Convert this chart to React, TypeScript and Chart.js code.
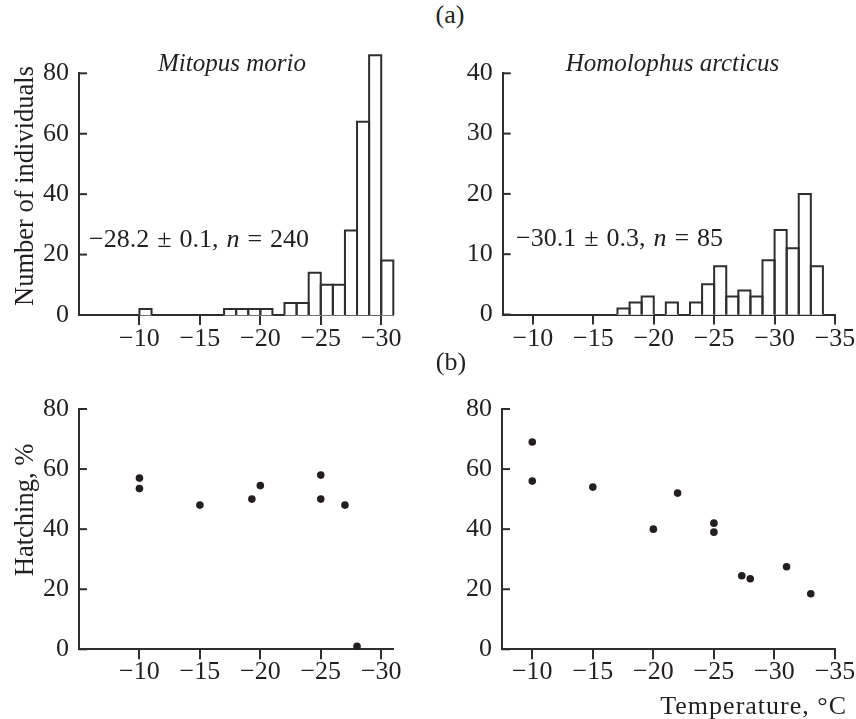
import React, { useEffect, useRef } from 'react';
import { Chart, registerables } from 'chart.js';

Chart.register(...registerables);

// ---------- data ----------
const BIN_WIDTH = 1;
// histogram bins: left edge temperature (°C) of each 1-degree bin, and counts
const mitopusBinStarts = [-10, -17, -18, -19, -20, -22, -23, -24, -25, -26, -27, -28, -29, -30];
const mitopusCounts = [2, 2, 2, 2, 2, 4, 4, 14, 10, 10, 28, 64, 86, 18];
const homolophusBinStarts = [-17, -18, -19, -21, -23, -24, -25, -26, -27, -28, -29, -30, -31, -32, -33];
const homolophusCounts = [1, 2, 3, 2, 2, 5, 8, 3, 4, 3, 9, 14, 11, 20, 8];

// hatching success vs temperature
const mitopusHatchTemp = [-10, -10, -15, -19.3, -20, -25, -25, -27, -28];
const mitopusHatchPct = [57, 53.5, 48, 50, 54.5, 58, 50, 48, 1];
const homolophusHatchTemp = [-10, -10, -15, -20, -22, -25, -25, -27.3, -28, -31, -33];
const homolophusHatchPct = [69, 56, 54, 40, 52, 42, 39, 24.5, 23.5, 27.5, 18.5];

// tick labels
const tempTicksMitopus = [-10, -15, -20, -25, -30];
const tempTicksHomolophus = [-10, -15, -20, -25, -30, -35];
const countTicksMitopus = [0, 20, 40, 60, 80];
const countTicksHomolophus = [0, 10, 20, 30, 40];
const hatchTicks = [0, 20, 40, 60, 80];

// ---------- styles ----------
const INK = '#231f20';
const LINE = '#2e2e2e';
const SERIF = '"Liberation Serif", "Times New Roman", Times, serif';
const TICK_FONT = 26;
const LINE_W = 2;

Chart.defaults.font.family = SERIF;

const fmt = (v: number | string) => {
  const n = Number(v);
  return n < 0 ? '\u2212' + Math.abs(n) : String(n);
};

// y ticks pointing into the plot area
const innerYTicks = {
  id: 'innerYTicks',
  afterDraw(chart: any) {
    const { ctx, chartArea, scales } = chart;
    const y = scales.y;
    ctx.save();
    ctx.strokeStyle = LINE;
    ctx.lineWidth = LINE_W;
    y.ticks.forEach((t: any) => {
      const py = y.getPixelForValue(t.value);
      ctx.beginPath();
      ctx.moveTo(chartArea.left, py);
      ctx.lineTo(chartArea.left + 8, py);
      ctx.stroke();
    });
    ctx.restore();
  },
};

// open histogram outlines with uniform stroke, using the bar elements' own geometry
const barOutline = {
  id: 'barOutline',
  afterDatasetsDraw(chart: any) {
    const { ctx } = chart;
    chart.data.datasets.forEach((_: any, di: number) => {
      const meta = chart.getDatasetMeta(di);
      if (meta.type !== 'bar') return;
      ctx.save();
      ctx.strokeStyle = LINE;
      ctx.lineWidth = LINE_W;
      ctx.lineJoin = 'miter';
      meta.data.forEach((el: any) => {
        const { x, y, base, width } = el.getProps(['x', 'y', 'base', 'width'], true);
        const l = x - width / 2;
        const r = x + width / 2;
        ctx.beginPath();
        ctx.moveTo(l, base);
        ctx.lineTo(l, y);
        ctx.lineTo(r, y);
        ctx.lineTo(r, base);
        ctx.stroke();
      });
      ctx.restore();
    });
  },
};

type Box = { left: number; top: number; width: number; height: number };
type Area = { left: number; top: number; right: number; bottom: number };

type PanelProps = {
  kind: 'bar' | 'scatter';
  xs: number[];
  ys: number[];
  xTicks: number[];
  yTicks: number[];
  xMin: number;
  xMax: number;
  box: Box;
  area: Area;
  xTickPad: number;
};

function Panel({ kind, xs, ys, xTicks, yTicks, xMin, xMax, box, area, xTickPad }: PanelProps) {
  const ref = useRef<HTMLCanvasElement | null>(null);
  useEffect(() => {
    if (!ref.current) return;
    const dataset: any =
      kind === 'bar'
        ? {
            data: xs.map((x, i) => ({ x: x - BIN_WIDTH / 2, y: ys[i] })),
            backgroundColor: '#ffffff',
            borderWidth: 0,
            categoryPercentage: 1,
            barPercentage: 1,
            clip: false,
          }
        : {
            data: xs.map((x, i) => ({ x, y: ys[i] })),
            pointRadius: 3.8,
            pointBackgroundColor: INK,
            pointBorderWidth: 0,
            showLine: false,
            clip: false,
          };
    const chart = new Chart(ref.current, {
      type: kind,
      data: { datasets: [dataset] },
      options: {
        animation: false,
        responsive: false,
        events: [],
        layout: {
          padding: {
            left: 0,
            top: area.top - box.top,
            right: box.left + box.width - area.right,
            bottom: 0,
          },
        },
        plugins: {
          legend: { display: false },
          tooltip: { enabled: false },
          title: { display: false },
        },
        scales: {
          x: {
            type: 'linear',
            reverse: true,
            min: xMin,
            max: xMax,
            offset: false,
            afterBuildTicks: (s: any) => {
              s.ticks = xTicks.map((v) => ({ value: v }));
            },
            afterFit: (s: any) => {
              s.height = box.top + box.height - area.bottom;
            },
            grid: {
              display: true,
              drawOnChartArea: false,
              drawTicks: true,
              tickLength: 10,
              color: LINE,
              lineWidth: LINE_W,
              offset: false,
            },
            border: { display: true, color: LINE, width: LINE_W },
            ticks: {
              callback: fmt,
              padding: xTickPad,
              color: INK,
              font: { size: TICK_FONT, family: SERIF },
              maxRotation: 0,
              autoSkip: false,
            },
          },
          y: {
            type: 'linear',
            min: yTicks[0],
            max: yTicks[yTicks.length - 1],
            afterBuildTicks: (s: any) => {
              s.ticks = yTicks.map((v) => ({ value: v }));
            },
            afterFit: (s: any) => {
              s.width = area.left - box.left;
            },
            grid: { display: false, drawTicks: false },
            border: { display: true, color: LINE, width: LINE_W },
            ticks: {
              callback: fmt,
              padding: 10,
              color: INK,
              font: { size: TICK_FONT, family: SERIF },
              autoSkip: false,
            },
          },
        },
      } as any,
      plugins: [barOutline, innerYTicks],
    } as any);
    return () => chart.destroy();
  }, []);
  return (
    <canvas
      ref={ref}
      width={box.width}
      height={box.height}
      style={{ position: 'absolute', left: box.left, top: box.top, width: box.width, height: box.height }}
    />
  );
}

function Text({
  x,
  baseline,
  size,
  align = 'left',
  italic = false,
  spacing = 0,
  wordSpacing = 0,
  children,
}: any) {
  const shift = align === 'center' ? '-50%' : align === 'right' ? '-100%' : '0';
  return (
    <div
      style={{
        position: 'absolute',
        left: x,
        top: baseline - 0.8375 * size,
        fontSize: size,
        lineHeight: `${size}px`,
        whiteSpace: 'nowrap',
        transform: `translateX(${shift})`,
        fontStyle: italic ? 'italic' : 'normal',
        letterSpacing: spacing,
        wordSpacing,
      }}
    >
      {children}
    </div>
  );
}

function VText({ cx, cy, size, children }: any) {
  return (
    <div
      style={{
        position: 'absolute',
        left: cx,
        top: cy,
        fontSize: size,
        lineHeight: `${size}px`,
        whiteSpace: 'nowrap',
        transform: 'translate(-50%, -50%) rotate(-90deg)',
      }}
    >
      {children}
    </div>
  );
}

export default function App() {
  return (
    <div
      style={{
        position: 'absolute',
        left: 0,
        top: 0,
        width: 856,
        height: 719,
        overflow: 'hidden',
        background: '#ffffff',
        fontFamily: SERIF,
        color: INK,
      }}
    >
      <Panel
        kind="bar"
        xs={mitopusBinStarts}
        ys={mitopusCounts}
        xTicks={tempTicksMitopus}
        yTicks={countTicksMitopus}
        xMin={-31}
        xMax={-5}
        box={{ left: 0, top: 40, width: 420, height: 320 }}
        area={{ left: 79, top: 73.3, right: 393.3, bottom: 315 }}
        xTickPad={-1}
      />
      <Panel
        kind="bar"
        xs={homolophusBinStarts}
        ys={homolophusCounts}
        xTicks={tempTicksHomolophus}
        yTicks={countTicksHomolophus}
        xMin={-35}
        xMax={-7.5}
        box={{ left: 420, top: 40, width: 460, height: 320 }}
        area={{ left: 502.7, top: 73.3, right: 835, bottom: 314.5 }}
        xTickPad={-1}
      />
      <Panel
        kind="scatter"
        xs={mitopusHatchTemp}
        ys={mitopusHatchPct}
        xTicks={tempTicksMitopus}
        yTicks={hatchTicks}
        xMin={-31}
        xMax={-5}
        box={{ left: 0, top: 380, width: 420, height: 320 }}
        area={{ left: 79, top: 409, right: 393.3, bottom: 649.3 }}
        xTickPad={-3}
      />
      <Panel
        kind="scatter"
        xs={homolophusHatchTemp}
        ys={homolophusHatchPct}
        xTicks={tempTicksHomolophus}
        yTicks={hatchTicks}
        xMin={-35}
        xMax={-7.5}
        box={{ left: 420, top: 380, width: 460, height: 320 }}
        area={{ left: 502, top: 409, right: 835, bottom: 649.3 }}
        xTickPad={-3}
      />

      <Text x={450} baseline={24} size={26} align="center">(a)</Text>
      <Text x={451} baseline={371} size={26} align="center">(b)</Text>

      <Text x={232} baseline={71} size={25} align="center" italic>Mitopus morio</Text>
      <Text x={672.5} baseline={71} size={25} align="center" italic>Homolophus arcticus</Text>

      <Text x={89} baseline={248} size={26} wordSpacing={1.5}>
        {'\u221228.2 \u00b1 0.1, '}<i>n</i>{' = 240'}
      </Text>
      <Text x={516} baseline={247} size={26} wordSpacing={1.5}>
        {'\u221230.1 \u00b1 0.3, '}<i>n</i>{' = 85'}
      </Text>

      <VText cx={24} cy={186} size={26.5}>Number of individuals</VText>
      <VText cx={24} cy={510} size={26.5}>Hatching, %</VText>

      <Text x={847} baseline={715} size={26} align="right" spacing={1}>Temperature, °C</Text>
    </div>
  );
}
